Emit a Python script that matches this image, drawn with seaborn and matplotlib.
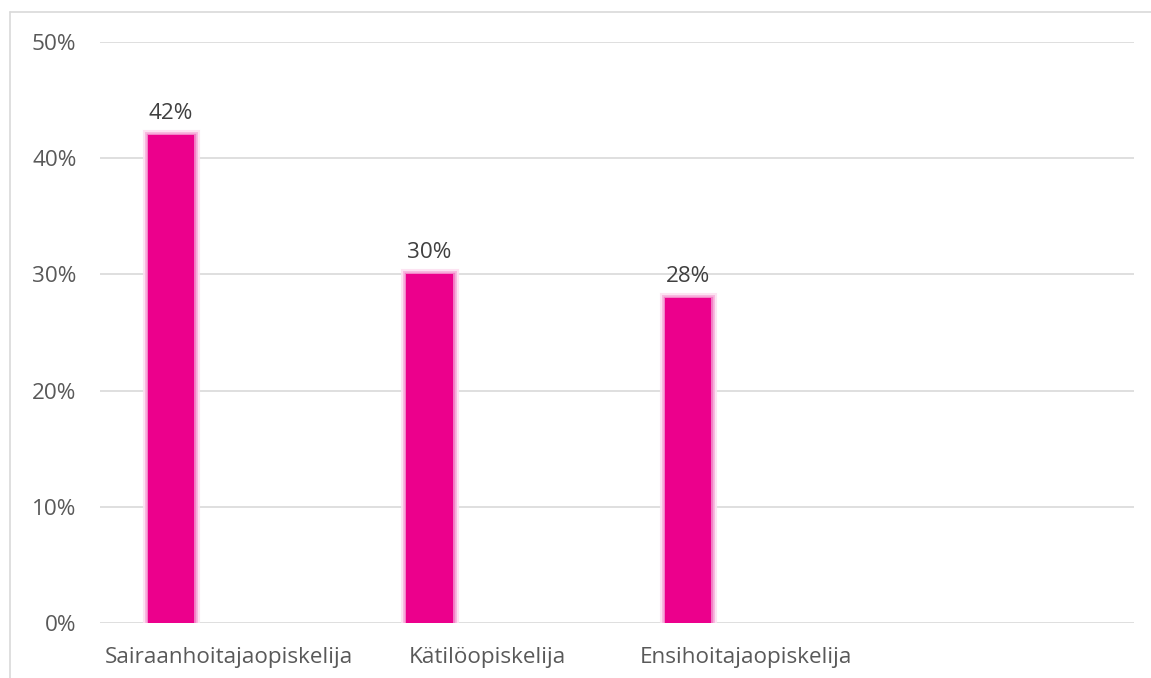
import matplotlib
matplotlib.use("Agg")
import matplotlib.pyplot as plt
import matplotlib.patheffects as pe
from matplotlib.lines import Line2D
import seaborn as sns
import pandas as pd
import numpy as np

categories = ["Sairaanhoitajaopiskelija", "Kätilöopiskelija", "Ensihoitajaopiskelija", ""]
values = [42, 30, 28, np.nan]
series = ["Osuus", "Tyhjä"]
yticks = [0, 10, 20, 30, 40, 50]

sns.set_theme(style="white")
plt.rcParams['font.family'] = ['Open Sans', 'DejaVu Sans']

df = pd.DataFrame({
    "cat": categories * 2,
    "val": values + [np.nan] * len(categories),
    "ser": [series[0]] * len(categories) + [series[1]] * len(categories),
})

fig = plt.figure(figsize=(11.51, 6.78), dpi=100)
ax = fig.add_axes([100 / 1151, 55 / 678, 1034 / 1151, 581 / 678])

magenta = "#EC008C"
sns.barplot(data=df, x="cat", y="val", hue="ser", order=categories, hue_order=series,
            palette=[magenta, magenta], width=0.9, gap=0.6, dodge=True, ax=ax,
            legend=False, errorbar=None, saturation=1)

for p in ax.patches:
    p.set_edgecolor("none")
    p.set_path_effects([
        pe.Stroke(linewidth=8, foreground="#fde0f1", alpha=0.9),
        pe.Stroke(linewidth=5, foreground="#f8b4de", alpha=0.9),
        pe.Stroke(linewidth=2.5, foreground="#f27cc4", alpha=0.9),
        pe.Normal(),
    ])

fs = 16.2
for p, v in zip(ax.patches, values):
    if not np.isnan(v):
        ax.annotate(f"{v:.0f}%", (p.get_x() + p.get_width() / 2, v),
                    xytext=(0, 8), textcoords="offset points", ha="center", va="bottom",
                    fontsize=fs, color="#404040")

ax.set_ylim(0, 50)
ax.set_xlim(-0.5, 3.5)
ax.set_yticks(yticks)
ax.set_yticklabels([f"{t}%" for t in yticks], fontsize=fs, color="#595959")
ax.tick_params(axis="x", labelsize=fs, labelcolor="#595959", length=0, pad=17)
ax.tick_params(axis="y", length=0, pad=17)
ax.set_xlabel("")
ax.set_ylabel("")
ax.yaxis.grid(True, color="#d9d9d9", linewidth=1.2)
ax.set_axisbelow(True)
for s in ax.spines.values():
    s.set_visible(False)

fig.add_artist(Line2D([10 / 1151, 10 / 1151], [0, 1 - 12 / 678], transform=fig.transFigure,
                      color="#d9d9d9", linewidth=1.2))
fig.add_artist(Line2D([10 / 1151, 1], [1 - 12 / 678, 1 - 12 / 678], transform=fig.transFigure,
                      color="#d9d9d9", linewidth=1.2))

fig.savefig("out.png", dpi=100, facecolor="white")
